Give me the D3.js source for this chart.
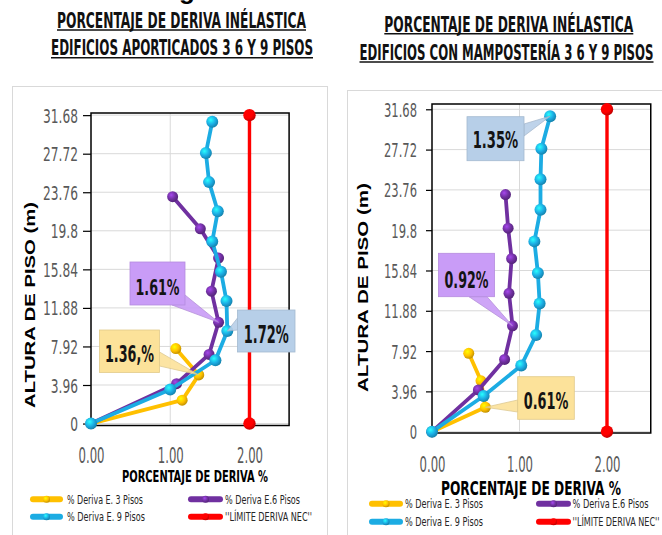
<!DOCTYPE html>
<html>
<head>
<meta charset="utf-8">
<script src="https://cdn.jsdelivr.net/npm/d3@7"></script>
<style>
  html, body { margin: 0; padding: 0; background: #fff; }
  svg { display: block; }
</style>
</head>
<body>
<svg id="chart" width="662" height="535"></svg>
<script>
// ---- Floor heights (m) of each building ----
const heights3 = [0, 2.4, 5.0, 7.7];
const heights6 = [0, 4.1, 7.1, 10.4, 13.6, 17.0, 20.0, 23.3];
const heights9 = [0, 3.5, 6.5, 9.5, 12.6, 15.6, 18.7, 21.8, 24.8, 27.8, 31.0];
const limitHeights = [0, 31.68];

// ---- Inelastic drift (%) : framed buildings ----
const framed3 = [0, 1.15, 1.36, 1.07];
const framed6 = [0, 1.08, 1.49, 1.61, 1.52, 1.61, 1.38, 1.03];
const framed9 = [0, 1.00, 1.57, 1.72, 1.71, 1.64, 1.53, 1.60, 1.49, 1.45, 1.53];

// ---- Inelastic drift (%) : buildings with masonry ----
const masonry3 = [0, 0.61, 0.56, 0.42];
const masonry6 = [0, 0.53, 0.83, 0.92, 0.88, 0.91, 0.87, 0.84];
const masonry9 = [0, 0.59, 1.02, 1.19, 1.23, 1.21, 1.17, 1.24, 1.24, 1.25, 1.35];

// ---- NEC drift limit ----
const limitDrift = [2.0, 2.0];

// ---- Axis ticks and labels ----
const yTicks = [0, 3.96, 7.92, 11.88, 15.84, 19.8, 23.76, 27.72, 31.68];
const xTicks = [0, 1, 2];
const seriesNames = ["% Deriva E. 3 Pisos", "% Deriva E.6 Pisos", "% Deriva  E. 9 Pisos", "''LÍMITE DERIVA NEC''"];
const seriesColors = ["#FFC000", "#7030A0", "#1CACE3", "#FF0000"];
const titleTop = ["PORCENTAJE DE DERIVA INÉLASTICA", "PORCENTAJE DE DERIVA INÉLASTICA"];
const titleBottom = ["EDIFICIOS APORTICADOS 3 6 Y 9 PISOS", "EDIFICIOS CON MAMPOSTERÍA 3 6 Y 9 PISOS"];
const xTitle = "PORCENTAJE DE DERIVA %";
const yTitle = "ALTURA DE PISO  (m)";

const NARROW = "'Liberation Sans Narrow','Arial Narrow','DejaVu Sans Condensed',sans-serif";
const WIDE = "'Liberation Sans',Arial,'DejaVu Sans',sans-serif";

const svg = d3.select("#chart");
const defs = svg.append("defs");

// shaded marker fills
seriesColors.forEach((c, i) => {
  const g = defs.append("radialGradient").attr("id", "mk" + i)
    .attr("cx", "38%").attr("cy", "35%").attr("r", "70%");
  g.append("stop").attr("offset", "0%").attr("stop-color", d3.color(c).brighter(1.1).formatHex());
  g.append("stop").attr("offset", "55%").attr("stop-color", c);
  g.append("stop").attr("offset", "100%").attr("stop-color", d3.color(c).darker(0.9).formatHex());
});

function label(parent, str, o) {
  const t = parent.append("text").text(str)
    .attr("x", o.x).attr("y", o.y)
    .attr("font-family", o.family || NARROW)
    .attr("font-size", o.size)
    .attr("font-weight", o.weight || "normal")
    .attr("fill", o.fill || "#000")
    .attr("text-anchor", o.anchor || "start");
  if (o.width) t.attr("textLength", o.width).attr("lengthAdjust", "spacingAndGlyphs");
  if (o.rotate) t.attr("transform", `rotate(${o.rotate},${o.x},${o.y})`);
  return t;
}

// squeeze a group of labels so that the widest one gets the given width
function squeeze(sel, refWidth) {
  const nodes = sel.nodes();
  const widths = nodes.map(n => n.getComputedTextLength());
  const k = refWidth / d3.max(widths);
  nodes.forEach((n, i) => {
    d3.select(n).attr("textLength", widths[i] * k).attr("lengthAdjust", "spacingAndGlyphs");
  });
}

// fragment of a caption above the charts
label(svg, "g", { x: 187, y: -1, size: 26, weight: "bold", anchor: "middle", family: WIDE });

const panels = [
  {
    data: [framed3, framed6, framed9, limitDrift],
    frame: [12.5, 86.5, 315, 470],
    xPx: [91, 289.1], yDom: [-0.2, 31.9], yPx: [425.5, 113],
    tickSize: 8, tickPad: 5, yLabelSize: 20, yLabelW: 35,
    xLabelSize: 21, xLabelW: 26, xLabelY: 463,
    t1: { y: 27.5, size: 21, w: 249, cx: 181.5, uy: 30 },
    t2: { y: 55, size: 21, w: 262, cx: 182, uy: 57.8 },
    xt: { x: 195, y: 481.5, size: 16.5, w: 146 },
    yt: { x: 35, y: 305, size: 14, w: 206 },
    legend: { rows: [499.3, 516.7], lines: [[30, 63], [188, 223]], text: [67, 225],
              widths: [76, 75, 78, 87], size: 12.5 },
    callouts: [
      { s: 1, i: 3, text: "1.61%", fill: "#C99CF7", box: [130, 262, 55, 43], base: [[172, 305], [185, 295]], ty: 295, size: 22, w: 44 },
      { s: 2, i: 3, text: "1.72%", fill: "#B7CFE8", box: [237.5, 310, 57.5, 42], base: [[237.5, 318], [237.5, 330]], ty: 343.3, size: 25, w: 45 },
      { s: 0, i: 2, text: "1.36,%", fill: "#FCE29A", box: [99.5, 330, 60, 42.5], base: [[159.5, 352], [159.5, 366]], ty: 361.7, size: 23, w: 49 }
    ]
  },
  {
    data: [masonry3, masonry6, masonry9, limitDrift],
    frame: [347.5, 90.5, 340, 470],
    xPx: [432, 650.75], yDom: [-0.13, 32.2], yPx: [433, 104],
    tickSize: 6, tickPad: 9, yLabelSize: 20, yLabelW: 33,
    xLabelSize: 22, xLabelW: 26, xLabelY: 471.5,
    t1: { y: 31.5, size: 22, w: 249, cx: 508.8, uy: 33.8 },
    t2: { y: 59.5, size: 22, w: 294, cx: 506.5, uy: 62 },
    xt: { x: 531, y: 494.5, size: 20, w: 180 },
    yt: { x: 368, y: 287.5, size: 14, w: 209 },
    legend: { rows: [503.8, 521.7], lines: [[369, 403], [536, 571]], text: [405, 572.5],
              widths: [78, 76, 78, 87], size: 12.5 },
    callouts: [
      { s: 2, i: 10, text: "1.35%", fill: "#B7CFE8", box: [467, 116.7, 57, 44], base: [[524, 124], [524, 136]], ty: 148.3, size: 23, w: 45.6 },
      { s: 1, i: 3, text: "0.92%", fill: "#C99CF7", box: [438.5, 253.3, 56, 43.4], base: [[469, 296.7], [487, 296.7]], ty: 288.3, size: 23, w: 44 },
      { s: 0, i: 1, text: "0.61%", fill: "#FCE29A", box: [517.7, 376.7, 56.6, 42.6], base: [[517.7, 400], [517.7, 412]], ty: 409, size: 23, w: 44.6 }
    ]
  }
];

const heightSets = [heights3, heights6, heights9, limitHeights];
const lineWidths = [3.8, 3.8, 3.8, 3.4];
const markerR = [5.5, 5.5, 6, 6.2];

panels.forEach((p, pi) => {
  const g = svg.append("g");
  const x = d3.scaleLinear().domain([0, 2.5]).range(p.xPx);
  const y = d3.scaleLinear().domain(p.yDom).range(p.yPx);
  const [x0, x1] = x.range();
  const [yb, yt] = y.range();

  // outer chart frame
  g.append("rect").attr("x", p.frame[0]).attr("y", p.frame[1])
    .attr("width", p.frame[2]).attr("height", p.frame[3])
    .attr("fill", "#fff").attr("stroke", "#D9D9D9").attr("stroke-width", 1);

  // titles
  [[titleTop[pi], p.t1], [titleBottom[pi], p.t2]].forEach(([s, t]) => {
    label(g, s, { x: t.cx, y: t.y, size: t.size, weight: "bold", anchor: "middle", width: t.w, fill: "#111" });
    g.append("line").attr("x1", t.cx - t.w / 2).attr("x2", t.cx + t.w / 2)
      .attr("y1", t.uy).attr("y2", t.uy).attr("stroke", "#111").attr("stroke-width", 1.4);
  });

  // gridlines
  g.append("g").selectAll("line").data(yTicks).join("line")
    .attr("x1", x0).attr("x2", x1).attr("y1", d => y(d)).attr("y2", d => y(d))
    .attr("stroke", "#D9D9D9").attr("stroke-width", 1);
  g.append("g").selectAll("line").data(xTicks.slice(1)).join("line")
    .attr("x1", d => x(d)).attr("x2", d => x(d)).attr("y1", yt).attr("y2", yb)
    .attr("stroke", "#D9D9D9").attr("stroke-width", 1);

  // plot border
  g.append("rect").attr("x", x0).attr("y", yt).attr("width", x1 - x0).attr("height", yb - yt)
    .attr("fill", "none").attr("stroke", "#000").attr("stroke-width", 1.5);

  // y axis
  const ya = g.append("g").attr("transform", `translate(${x0},0)`)
    .call(d3.axisLeft(y).tickValues(yTicks).tickFormat(d => String(d))
      .tickSize(p.tickSize).tickPadding(p.tickPad));
  ya.select(".domain").remove();
  ya.selectAll("line").attr("stroke", "#000").attr("stroke-width", 1.2);
  const ylab = ya.selectAll("text").attr("font-family", NARROW).attr("font-size", p.yLabelSize)
    .attr("fill", "#595959").attr("dy", "0.35em");
  squeeze(ylab, p.yLabelW);

  // x axis
  const xa = g.append("g").attr("transform", `translate(0,${p.xLabelY})`)
    .call(d3.axisBottom(x).tickValues(xTicks).tickFormat(d3.format(".2f")).tickSize(0).tickPadding(0));
  xa.select(".domain").remove();
  const xlab = xa.selectAll("text").attr("font-family", NARROW).attr("font-size", p.xLabelSize)
    .attr("fill", "#595959").attr("dy", 0);
  squeeze(xlab, p.xLabelW);

  // axis titles
  label(g, xTitle, { x: p.xt.x, y: p.xt.y, size: p.xt.size, weight: "bold", anchor: "middle", width: p.xt.w });
  label(g, yTitle, { x: p.yt.x, y: p.yt.y, size: p.yt.size, weight: "bold", anchor: "middle",
                     width: p.yt.w, family: WIDE, rotate: -90 });

  // series
  const line = d3.line().x(d => x(d[0])).y(d => y(d[1]));
  p.data.forEach((vals, si) => {
    const pts = vals.map((v, k) => [v, heightSets[si][k]]);
    g.append("path").attr("d", line(pts)).attr("fill", "none")
      .attr("stroke", seriesColors[si]).attr("stroke-width", lineWidths[si])
      .attr("stroke-linejoin", "round").attr("stroke-linecap", "round");
    g.append("g").selectAll("circle").data(pts).join("circle")
      .attr("cx", d => x(d[0])).attr("cy", d => y(d[1])).attr("r", markerR[si])
      .attr("fill", `url(#mk${si})`);
  });

  // value callouts
  p.callouts.forEach(c => {
    const tip = [x(p.data[c.s][c.i]), y(heightSets[c.s][c.i])];
    const cg = g.append("g");
    cg.append("path")
      .attr("d", `M${c.base[0][0]},${c.base[0][1]}L${tip[0]},${tip[1]}L${c.base[1][0]},${c.base[1][1]}Z`)
      .attr("fill", c.fill).attr("stroke", d3.color(c.fill).darker(0.4).formatHex()).attr("stroke-width", 0.8)
      .attr("opacity", 0.9);
    cg.append("rect").attr("x", c.box[0]).attr("y", c.box[1]).attr("width", c.box[2]).attr("height", c.box[3])
      .attr("fill", c.fill).attr("stroke", d3.color(c.fill).darker(0.3).formatHex()).attr("stroke-width", 0.8);
    label(cg, c.text, { x: c.box[0] + c.box[2] / 2, y: c.ty, size: c.size, weight: "bold",
                        anchor: "middle", width: c.w, fill: "#141414" });
  });

  // legend
  const L = p.legend;
  seriesNames.forEach((name, si) => {
    const row = L.rows[Math.floor(si / 2)];
    const col = si % 2;
    const [lx0, lx1] = L.lines[col];
    g.append("line").attr("x1", lx0 + 3).attr("x2", lx1 - 3).attr("y1", row).attr("y2", row)
      .attr("stroke", seriesColors[si]).attr("stroke-width", 6).attr("stroke-linecap", "round");
    g.append("circle").attr("cx", (lx0 + lx1) / 2).attr("cy", row).attr("r", 3.5)
      .attr("fill", `url(#mk${si})`);
    label(g, name, { x: L.text[col], y: row + 4.5, size: L.size, width: L.widths[si], fill: "#262626" });
  });
});
</script>
</body>
</html>
